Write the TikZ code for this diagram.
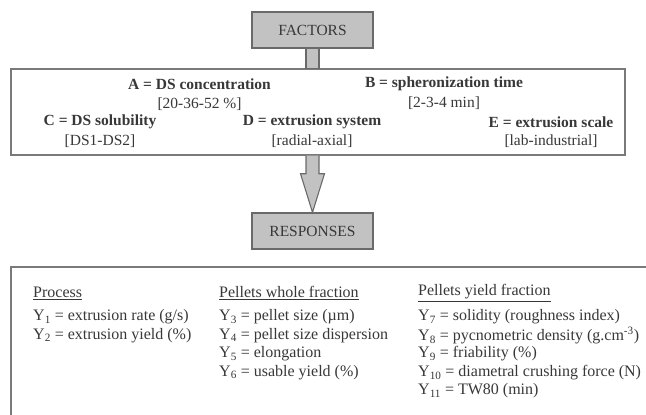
\documentclass[tikz,border=0pt]{standalone}
\usepackage{fontspec}
\setmainfont{Liberation Serif}
\usetikzlibrary{calc}
\definecolor{boxgray}{HTML}{C2C2C2}
\definecolor{framegray}{HTML}{6A6A6A}
\definecolor{outl}{HTML}{7A7A7A}
\definecolor{txt}{HTML}{383838}
\newcommand\ysub[1]{Y\textsubscript{#1}}
\begin{document}
\begin{tikzpicture}[x=1pt,y=-1pt,
  graybox/.style={draw=framegray, line width=1.2pt, fill=boxgray, inner sep=0, text=txt,
    minimum width=121pt, minimum height=36pt, font=\fontsize{15.5}{18}\selectfont},
  bigbox/.style={draw=outl, line width=1.4pt, fill=white, inner sep=0},
  connfill/.style={draw=framegray, line width=1.1pt, fill=boxgray, line join=miter},
  factorlbl/.style={inner sep=0, text=txt, font=\fontsize{15.5}{18}\selectfont\bfseries},
  rangelbl/.style={inner sep=0, text=txt, font=\fontsize{15.5}{18}\selectfont},
  resplbl/.style={inner sep=0, anchor=west, text=txt, font=\fontsize{16}{18}\selectfont},
]
\useasboundingbox (0,0) rectangle (646,415);
\clip (0,0) rectangle (646,415);

% boxes
\node[graybox] (factors) at (312.5,30) {FACTORS};
\node[bigbox, minimum width=614pt, minimum height=86pt] (fbox) at (318,112) {};
\node[graybox] (responses) at (312.5,231) {RESPONSES};
\node[bigbox, minimum width=700pt, minimum height=220pt] (rbox) at (361,377) {};

% stem FACTORS -> factors box
\draw[connfill] ($(factors.south)+(-6.5,0)$) rectangle ($(factors.south |- fbox.north)+(6.5,0)$);
% arrow factors box -> RESPONSES
\coordinate (a0) at (responses.north |- fbox.south);
\draw[connfill] ($(a0)+(-6.5,0)$) -- ($(a0)+(-6.5,18)$) -- ($(a0)+(-12,18)$) -- (responses.north)
  -- ($(a0)+(12,18)$) -- ($(a0)+(6.5,18)$) -- ($(a0)+(6.5,0)$);

% factors
\node[factorlbl] (fa) at (199.5,84) {A = DS concentration};
\node[rangelbl] (ra) at (199.5,104) {[20-36-52 \%]};
\node[factorlbl] (fb) at (444,84) {B = spheronization time};
\node[rangelbl] (rb) at (444,103) {[2-3-4 min]};
\node[factorlbl] (fc) at (100,122) {C = DS solubility};
\node[rangelbl] (rc) at (100,141) {[DS1-DS2]};
\node[factorlbl] (fd) at (312,122) {D = extrusion system};
\node[rangelbl] (rd) at (312,141) {[radial-axial]};
\node[factorlbl] (fe) at (551,122) {E = extrusion scale};
\node[rangelbl] (re) at (551,141) {[lab-industrial]};

% responses
\node[resplbl] (h1) at (33,293) {\underline{Process}};
\node[resplbl] (y1) at (33,317) {\ysub{1} = extrusion rate (g/s)};
\node[resplbl] (y2) at (33,335.5) {\ysub{2} = extrusion yield (\%)};

\node[resplbl] (h2) at (219,293) {\underline{Pellets whole fraction}};
\node[resplbl] (y3) at (219,317) {\ysub{3} = pellet size (µm)};
\node[resplbl] (y4) at (219,335.5) {\ysub{4} = pellet size dispersion};
\node[resplbl] (y5) at (219,354) {\ysub{5} = elongation};
\node[resplbl] (y6) at (219,372.5) {\ysub{6} = usable yield (\%)};

\node[resplbl] (h3) at (418,293) {\underline{Pellets yield fraction}};
\node[resplbl] (y7) at (418,317) {\ysub{7} = solidity (roughness index)};
\node[resplbl] (y8) at (418,335.5) {\ysub{8} = pycnometric density (g.cm\textsuperscript{-3})};
\node[resplbl] (y9) at (418,354) {\ysub{9} = friability (\%)};
\node[resplbl] (y10) at (418,372.5) {\ysub{10} = diametral crushing force (N)};
\node[resplbl] (y11) at (418,391) {\ysub{11} = TW80 (min)};
\end{tikzpicture}
\end{document}
